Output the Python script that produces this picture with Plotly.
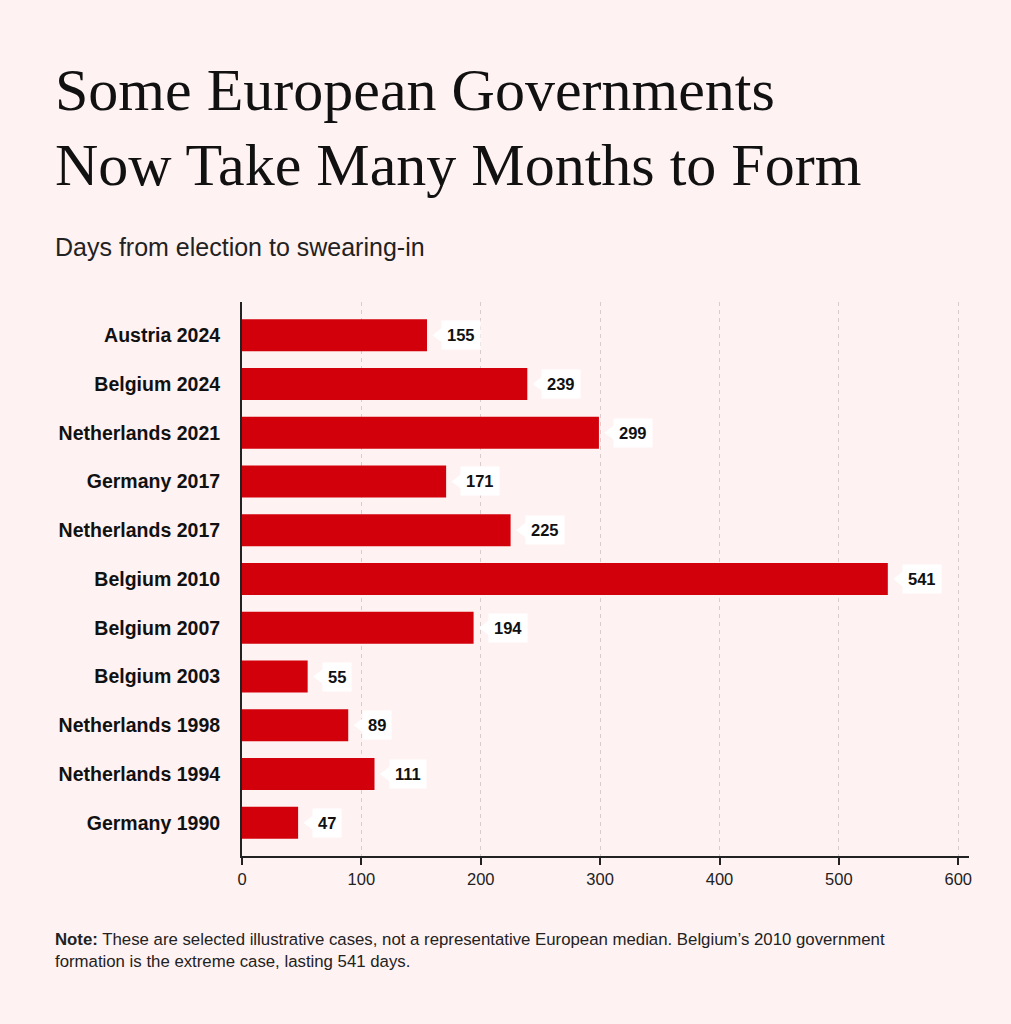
import plotly.graph_objects as go

# Data
cases = ["Austria 2024", "Belgium 2024", "Netherlands 2021", "Germany 2017",
         "Netherlands 2017", "Belgium 2010", "Belgium 2007", "Belgium 2003",
         "Netherlands 1998", "Netherlands 1994", "Germany 1990"]
days = [155, 239, 299, 171, 225, 541, 194, 55, 89, 111, 47]
x_ticks = [0, 100, 200, 300, 400, 500, 600]

bg = "#fff2f2"
red = "#d2000b"
sans = "Liberation Sans, Arial, sans-serif"
serif = "Liberation Serif, Times New Roman, serif"

W, H = 1011, 1024
L, R, T, B = 242, 42, 302, 168
pw = W - L - R
ph = H - T - B

fig = go.Figure()

fig.add_trace(go.Bar(
    y=cases, x=days, orientation="h",
    marker=dict(color=red, line=dict(width=0)),
    width=0.655,
    hoverinfo="skip",
))

# pixel -> data units
px = 609 / pw

# little notch pointing at the end of each bar
fig.add_trace(go.Scatter(
    y=cases, x=[d + 14.4 * px for d in days], mode="markers",
    marker=dict(symbol="triangle-left", size=18, color="white", line=dict(width=0)),
    hoverinfo="skip", cliponaxis=False,
))

for c, d in zip(cases, days):
    fig.add_annotation(
        x=d, y=c, xref="x", yref="y", text="<b>%d</b>" % d, showarrow=False,
        xanchor="left", xshift=14, bgcolor="white", borderpad=5,
        font=dict(family=sans, size=16.5, color="#111"),
    )


def paper_x(p):
    return (p - L) / pw


def paper_y(p):
    return (H - p - B) / ph


# Titles
fig.add_annotation(x=paper_x(53), y=paper_y(125), xref="paper", yref="paper",
                   text="Some European Governments", showarrow=False,
                   xanchor="left", yanchor="bottom",
                   font=dict(family=serif, size=60, color="#111"))
fig.add_annotation(x=paper_x(53), y=paper_y(200), xref="paper", yref="paper",
                   text="Now Take Many Months to Form", showarrow=False,
                   xanchor="left", yanchor="bottom",
                   font=dict(family=serif, size=60, color="#111"))
fig.add_annotation(x=paper_x(53), y=paper_y(247), xref="paper", yref="paper",
                   text="Days from election to swearing-in", showarrow=False,
                   xanchor="left", yanchor="middle",
                   font=dict(family=sans, size=25, color="#222"))
fig.add_annotation(x=paper_x(53), y=paper_y(950), xref="paper", yref="paper",
                   text="<b>Note:</b> These are selected illustrative cases, not a representative European median. Belgium’s 2010 government<br>formation is the extreme case, lasting 541 days.",
                   showarrow=False, xanchor="left", yanchor="middle", align="left",
                   font=dict(family=sans, size=16.8, color="#222"))

fig.update_layout(
    width=W, height=H,
    margin=dict(l=L, r=R, t=T, b=B),
    paper_bgcolor=bg, plot_bgcolor=bg,
    showlegend=False,
    font=dict(family=sans, color="#111"),
    xaxis=dict(range=[0, 609], tickvals=x_ticks, ticks="outside", ticklen=7, tickwidth=1.5,
               tickcolor="#222", showline=True, linecolor="#222", linewidth=2,
               showgrid=True, gridcolor="#d9cccc", griddash="4px,4px", gridwidth=1.2,
               zeroline=False, tickfont=dict(size=16.5, color="#222")),
    yaxis=dict(categoryorder="array", categoryarray=cases[::-1], range=[-0.68, 10.68],
               showline=True, linecolor="#222", linewidth=2, ticks="", showgrid=False,
               ticklabelstandoff=16,
               tickfont=dict(size=19.5, color="#111", family=sans),
               tickprefix="<b>", ticksuffix="</b>"),
)

fig.write_html("out.html", config={"displayModeBar": False},
               post_script="document.body.style.margin='0';")
